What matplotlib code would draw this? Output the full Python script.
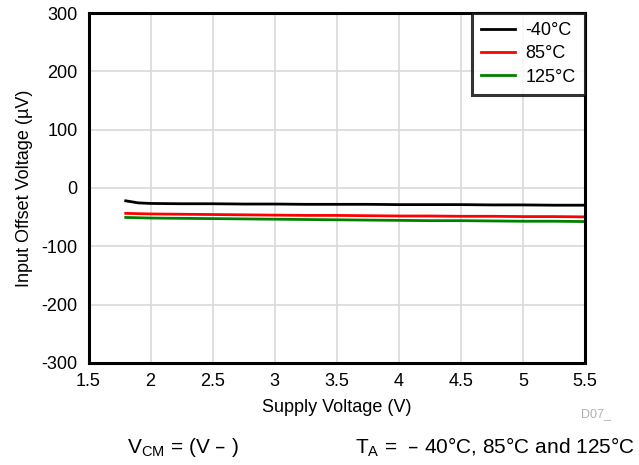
import matplotlib
matplotlib.use("Agg")
import matplotlib.pyplot as plt

plt.rcParams['font.family'] = ['Liberation Sans', 'DejaVu Sans']
plt.rcParams['axes.unicode_minus'] = False

supply = [1.8, 1.9, 2.0, 2.25, 2.5, 2.75, 3.0, 3.25, 3.5, 3.75, 4.0, 4.25, 4.5, 4.75, 5.0, 5.25, 5.5]
vos_m40 = [-22, -25.5, -26.5, -27, -27, -27.5, -27.5, -28, -28, -28, -28.5, -28.5, -28.5, -29, -29, -29.5, -29.5]
vos_85 = [-43.5, -44, -44.5, -45, -45.5, -46, -46.5, -47, -47, -47.5, -48, -48, -48.5, -48.5, -49, -49, -49.5]
vos_125 = [-50.5, -51, -51.5, -52, -52.5, -53, -53.5, -54, -54.5, -55, -55.5, -56, -56, -56.5, -57, -57, -57.5]

fig = plt.figure(figsize=(6.39, 4.65), dpi=100)
ax = fig.add_axes([0.1385, 0.2194, 0.777, 0.7526])

ax.plot(supply, vos_m40, color='black', lw=2, label='-40°C')
ax.plot(supply, vos_85, color='#ff0000', lw=2, label='85°C')
ax.plot(supply, vos_125, color='#008000', lw=2, label='125°C')

ax.set_xlim(1.5, 5.5)
ax.set_ylim(-300, 300)
ax.set_xticks([1.5, 2, 2.5, 3, 3.5, 4, 4.5, 5, 5.5])
ax.set_xticklabels(['1.5', '2', '2.5', '3', '3.5', '4', '4.5', '5', '5.5'])
ax.set_yticks(range(-300, 301, 100))
ax.grid(True, color='#d9d9d9', lw=1.2)
ax.set_axisbelow(True)
for s in ax.spines.values():
    s.set_linewidth(2.2)
ax.tick_params(length=0, labelsize=13, pad=7)
ax.tick_params(axis='y', pad=8)

ax.set_xlabel('Supply Voltage (V)', fontsize=13, labelpad=7)
ax.set_ylabel('Input Offset Voltage (µV)', fontsize=13, labelpad=6)

leg = ax.legend(loc='upper right', fontsize=13, frameon=True, fancybox=False,
                borderaxespad=0, handlelength=1.9, handletextpad=0.6,
                labelspacing=0.35, borderpad=0.5)
leg.get_frame().set_edgecolor('black')
leg.get_frame().set_linewidth(2.2)

fig.text(0.909, 0.103, 'D07_', fontsize=9, color='#b0b0b0', ha='left')
fig.text(0.199, 0.025, r'V$_{\mathregular{CM}}$ = (V – )', fontsize=15)
fig.text(0.555, 0.025, r'T$_{\mathregular{A}}$ =  – 40°C, 85°C and 125°C', fontsize=15)

fig.savefig('out.png', dpi=100)
